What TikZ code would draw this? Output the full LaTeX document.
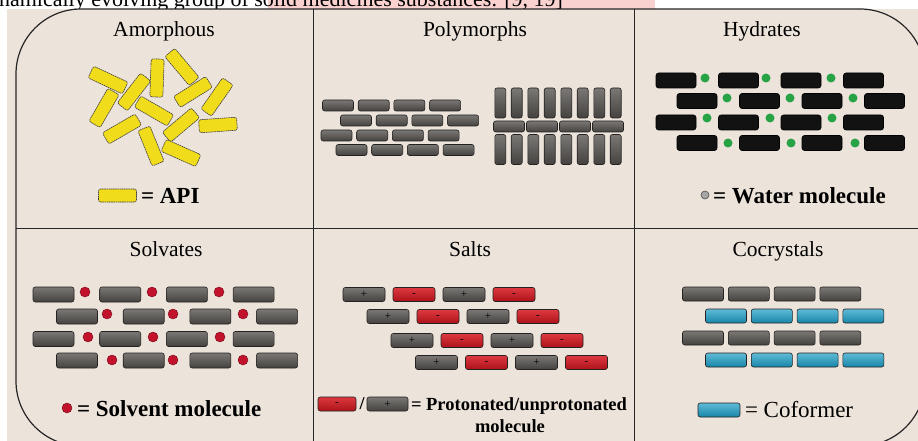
\documentclass[tikz,border=0pt]{standalone}
\usepackage{fontspec}
\setmainfont{Liberation Serif}
\usepackage{tikz}
\definecolor{paper}{HTML}{ECE3DA}
\definecolor{notepink}{HTML}{F9D2D0}
\definecolor{apiyellow}{HTML}{F1DC1B}
\definecolor{molgray}{HTML}{55524F}
\definecolor{moledge}{HTML}{242220}
\definecolor{watergreen}{HTML}{27A346}
\definecolor{solventred}{HTML}{C3122B}
\definecolor{saltred}{HTML}{D8161F}
\definecolor{coblue}{HTML}{1B9DC6}
\newcommand{\rodlength}{38pt}
\newcommand{\rodwidth}{13pt}
\newcommand{\framesize}{65pt}
\tikzstyle{molecule}=[draw=moledge, line width=0.6pt, rounded corners=2.2pt, inner sep=0, outer sep=0]
\tikzstyle{drug}=[molecule, top color=molgray!78!white, bottom color=molgray!80!black]
\tikzstyle{coformer}=[molecule, top color=coblue!70!white, bottom color=coblue!85!black, minimum width=41pt, minimum height=14pt]
\tikzstyle{saltpos}=[drug, minimum width=42pt, minimum height=14pt, font=\fontsize{11}{11}\selectfont]
\tikzstyle{saltneg}=[molecule, top color=saltred!85!white, bottom color=saltred!80!black, minimum width=42pt, minimum height=14pt, font=\fontsize{11}{11}\selectfont]
\tikzstyle{api}=[molecule, fill=apiyellow, draw=black!75, dash pattern=on 1.6pt off 0.6pt, minimum width=\rodlength, minimum height=\rodwidth]
\tikzstyle{hydbar}=[molecule, fill=black!93, draw=black, rounded corners=2.5pt, minimum width=40pt, minimum height=15pt]
\tikzstyle{water}=[circle, fill=watergreen, inner sep=0, minimum size=9pt]
\tikzstyle{solvent}=[circle, fill=solventred, draw=solventred!60!black, line width=0.4pt, inner sep=0, minimum size=10pt]
\tikzstyle{title}=[font=\fontsize{21.5}{25}\selectfont, anchor=base, inner sep=0]
\tikzstyle{legend}=[font=\fontsize{23}{27}\selectfont\bfseries, anchor=base west, inner sep=0]
\tikzstyle{divider}=[line width=1pt, draw=black!85]
\tikzstyle{solidforms}=[x=1pt, y=-1pt, every node/.style={outer sep=0}]

\begin{document}
\begin{tikzpicture}[solidforms]
    \useasboundingbox (0,0) rectangle (918,441);
    \clip (0,0) rectangle (918,441);
    \fill[white] (0,0) rectangle (918,441);

    % running text of the page, cut by the figure
    \fill[notepink] (268,0) rectangle (655,9);
    \node[anchor=base west, inner sep=0, font=\fontsize{22}{26}\selectfont] (runhead) at (-1,6.5)
        {namically evolving group of solid medicines substances. [9, 19]};
    \fill[paper] (7,9) rectangle (918,441);

    % frame and the six cells
    \draw[divider, line width=1.2pt, rounded corners=\framesize] (16,9) rectangle (925,446);
    \draw[divider] (313,9) -- (313,446);
    \draw[divider] (634,9) -- (634,446);
    \draw[divider] (16,228) -- (925,228);

    \node[title] (t-amorph) at (164,37) {Amorphous};
    \node[title] (t-poly)   at (475,37) {Polymorphs};
    \node[title] (t-hyd)    at (762,37) {Hydrates};
    \node[title] (t-solv)   at (166,256) {Solvates};
    \node[title] (t-salt)   at (470,256) {Salts};
    \node[title] (t-cocr)   at (778,256) {Cocrystals};

    % amorphous: API rods without order
    \foreach \x/\y/\a [count=\k] in {108/80/-25, 157/78/88, 182/67/-50, 134/92/52, 193/92/32,
                                     217/97/55, 104/108/60, 154/111/-30, 181/125/40, 218/125/4,
                                     122/129/30, 151/146/-68, 181/153/-24}
        \node[api, rotate=\a] (api-\k) at (\x,\y) {};
    \node[api] (api-key) at (117.5,195.5) {};
    \node[legend] (api-text) at (141,203) {= API};

    % polymorphs: two packings of the same molecule
    \foreach \r/\x/\y in {1/338/105.5, 2/356/120.5, 3/336.5/135.5, 4/351.5/150}
        \foreach \i in {0,...,3}
            \node[drug, minimum width=31pt, minimum height=11pt] (pa-\r-\i) at (\x+35.7*\i,\y) {};
    \foreach \i in {0,...,3} {
        \foreach \s in {-8.2,8.2} {
            \node[drug, minimum width=11pt, minimum height=30pt] at (508.5+33*\i+\s,103) {};
            \node[drug, minimum width=11pt, minimum height=30pt] at (508.5+33*\i+\s,149.5) {};
        }
        \node[drug, minimum width=31pt, minimum height=11pt] (pb-\i) at (509+33*\i,126.5) {};
    }

    % hydrates
    \foreach \r/\x/\y in {1/676/80.5, 2/697/101, 3/676/122.5, 4/697/143}
        \foreach \i in {0,...,3}
            \node[hydbar] (hyd-\r-\i) at (\x+62.5*\i,\y) {};
    \foreach \x/\y [count=\k] in {705/78, 766/78, 831/78, 727/98, 790/98, 853/98,
                                  707/118, 770/118, 832/118, 728/143, 791/143, 855/143}
        \node[water] (h2o-\k) at (\x,\y) {};
    \node[circle, fill=gray!70, draw=black!70, line width=0.6pt, minimum size=8pt, inner sep=0] (water-key) at (705,195) {};
    \node[legend] (water-text) at (713,203) {= Water molecule};

    % solvates
    \foreach \r/\x/\y in {1/53.5/294.5, 2/77/316.5, 3/53.5/339, 4/77/360.5}
        \foreach \i in {0,...,3}
            \node[drug, minimum width=41pt, minimum height=15pt] (sol-\r-\i) at (\x+66.7*\i,\y) {};
    \foreach \x/\y [count=\k] in {85/292, 152/292, 219/292, 107/314, 173/314, 243/314,
                                  88/337, 153/337, 220/337, 112/360, 173/360, 243/360}
        \node[solvent] (solv-\k) at (\x,\y) {};
    \node[solvent] (solvent-key) at (67,408) {};
    \node[legend] (solvent-text) at (77,416) {= Solvent molecule};

    % salts
    \foreach \r/\x/\y in {1/364/294.5, 2/388/316.5, 3/412/340.5, 4/436.5/362.5} {
        \foreach \i in {0,2}
            \node[saltpos] (salt-\r-\i) at (\x+50*\i,\y) {+};
        \foreach \i in {1,3}
            \node[saltneg] (salt-\r-\i) at (\x+50*\i,\y) {-};
    }
    \node[saltneg, minimum width=38pt] (neg-key) at (337,404) {-};
    \node[font=\fontsize{18}{20}\selectfont\bfseries] (slash) at (362,404) {/};
    \node[saltpos, minimum width=41pt] (pos-key) at (387.5,404) {+};
    \node[legend, font=\fontsize{18.5}{20}\selectfont\bfseries] (salt-text) at (411,410) {= Protonated/unprotonated};
    \node[title, font=\fontsize{18.5}{20}\selectfont\bfseries] (salt-text2) at (510,432) {molecule};

    % cocrystals
    \foreach \r/\x/\y/\kind in {1/703/294/drug, 2/726/316/coformer, 3/703/338/drug, 4/726/360/coformer}
        \foreach \i in {0,...,3}
            \node[\kind, minimum width=41pt, minimum height=14pt] (co-\r-\i) at (\x+45.8*\i,\y) {};
    \node[coformer, minimum width=42pt] (co-key) at (719,410) {};
    \node[legend, font=\fontsize{23}{27}\selectfont] (co-text) at (745,417) {= Coformer};
\end{tikzpicture}
\end{document}
